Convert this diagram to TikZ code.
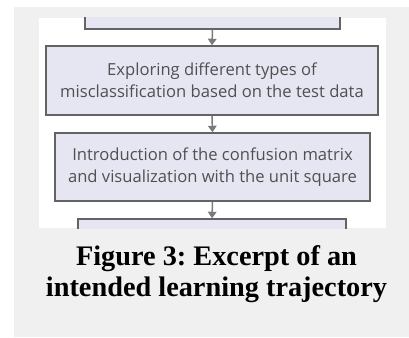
\documentclass[tikz,border=0pt]{standalone}
\usepackage{fontspec}
\setmainfont{Liberation Serif}
\newfontfamily\boxfont{Open Sans}
\usetikzlibrary{arrows.meta}
\definecolor{bggray}{HTML}{F0F0F0}
\definecolor{boxfill}{HTML}{E6E6F2}
\definecolor{boxline}{HTML}{636363}
\definecolor{arrowgray}{HTML}{7A7A7A}
\definecolor{boxtext}{HTML}{505050}
\tikzset{
  stepbox/.style={draw=boxline, fill=boxfill, line width=1.4pt, inner sep=0pt,
    align=center, text=boxtext, font=\boxfont\fontsize{16.6}{22}\selectfont},
  flowarrow/.style={draw=arrowgray, line width=1.5pt,
    -{Triangle[width=8.5pt,length=6.5pt]}},
  captiontext/.style={align=center, font=\bfseries\fontsize{28.3}{31.5}\selectfont, text=black}
}
\frenchspacing
\begin{document}
\begin{tikzpicture}[x=1pt,y=-1pt]
\useasboundingbox (0,0) rectangle (409,337);
\fill[bggray] (14,7) rectangle (409,337);
\fill[white] (39,18) rectangle (386,228);
\begin{scope}
\clip (39,18) rectangle (386,228);
\node[stepbox, minimum width=255pt, minimum height=39pt] (b0) at (212.5,9.5) {};
\node[stepbox, minimum width=332pt, minimum height=69pt] (b1) at (212,80.5)
  {Exploring different types of\\misclassification based on the test data};
\node[stepbox, minimum width=315pt, minimum height=68pt] (b2) at (212.5,167)
  {Introduction of the confusion matrix\\and visualization with the unit square};
\node[stepbox, minimum width=268pt, minimum height=41pt] (b3) at (212,239.5) {};
\draw[flowarrow] (b0.south) -- (b1.north);
\draw[flowarrow] (b1.south) -- (b2.north);
\draw[flowarrow] (b2.south) -- (b3.north);
\end{scope}
\node[captiontext] (cap) at (216.5,274) {Figure 3: Excerpt of an\\intended learning trajectory};
\end{tikzpicture}
\end{document}
